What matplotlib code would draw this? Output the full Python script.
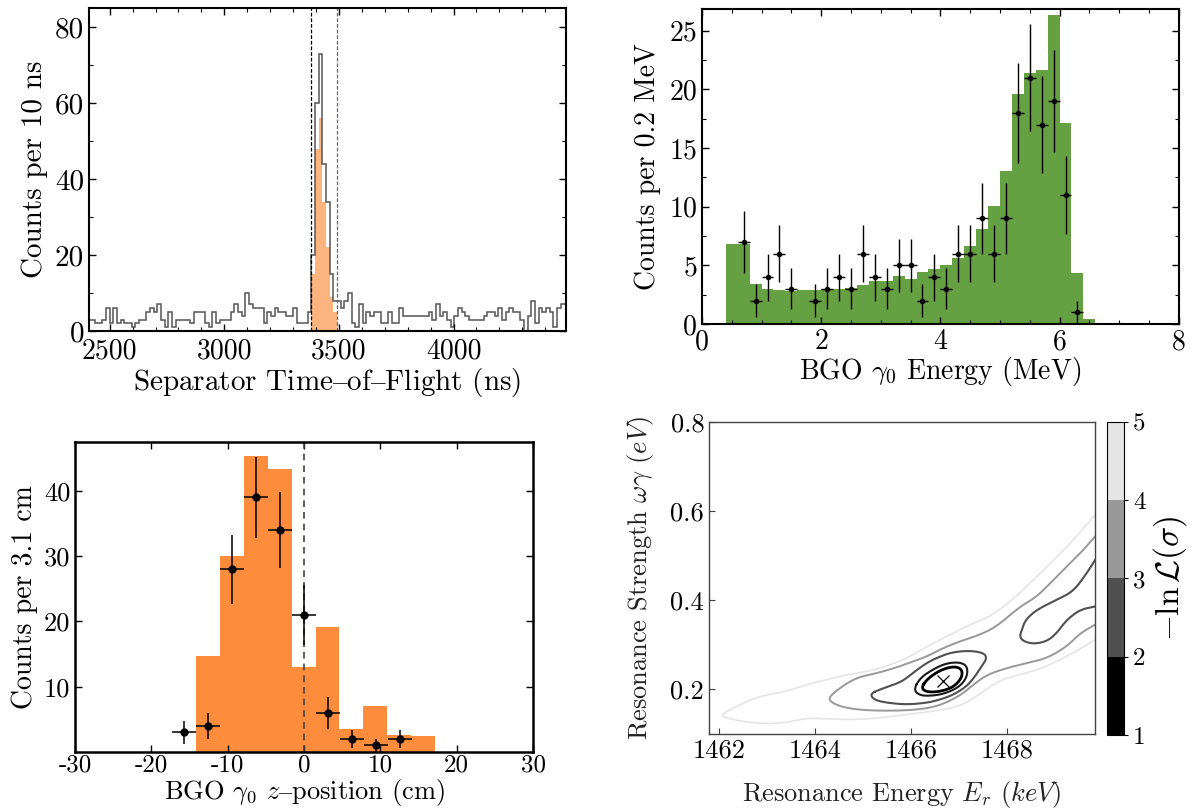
import numpy as np
import matplotlib
matplotlib.use('Agg')
from matplotlib import pyplot as plt
import matplotlib as mpl
from matplotlib.ticker import MultipleLocator

plt.rcParams['font.family'] = ['cmr10', 'DejaVu Serif']
plt.rcParams['mathtext.fontset'] = 'cm'
plt.rcParams['axes.unicode_minus'] = False

# ---- top left: separator time of flight ----
tof_start = 2404
tof_width = 16
tof_counts = [3, 3, 2, 2, 3, 6, 2, 6, 2, 3, 2, 2, 1, 2, 3, 3, 5, 6, 5, 7,
              3, 1, 5, 1, 3, 3, 3, 3, 2, 5, 5, 5, 2, 1, 5, 2, 3, 3, 3, 5,
              7, 5, 4, 10, 7, 6, 6, 6, 2, 5, 4, 6, 5, 5, 4, 4, 6, 2, 2, 2,
              5, 20, 60, 73, 44, 34, 15, 8, 8, 6, 8, 10, 2, 1, 7, 2, 5, 4, 5, 5,
              2, 2, 5, 2, 2, 6, 4, 4, 4, 4, 4, 4, 4, 5, 3, 7, 4, 5, 3, 1,
              4, 6, 5, 4, 3, 3, 3, 3, 4, 5, 5, 4, 6, 3, 5, 6, 5, 5, 3, 0,
              4, 8, 2, 6, 5, 6, 5, 1, 6, 7, 7]
gated_first_bin = 61
gated_counts = [15, 48, 56, 34, 22, 9, 5]
gate_lo, gate_hi = 3380, 3490

# ---- top right: BGO gamma0 energy ----
e_edges_lo = 0.4
e_width = 0.2
sim_counts = [6.85, 6.8, 3.38, 2.99, 2.93, 2.82, 2.87, 2.93, 2.99, 2.99,
              3.1, 3.3, 3.64, 3.64, 4.12, 3.84, 4.4, 4.7, 5.06, 5.66,
              6.68, 8.1, 10.07, 13.0, 19.6, 21.36, 21.64, 26.34, 17.1, 4.38, 0.4]
e_data_x = [0.7, 0.9, 1.1, 1.3, 1.5, 1.9, 2.1, 2.3, 2.5, 2.7, 2.9, 3.1, 3.3, 3.5,
            3.7, 3.9, 4.1, 4.3, 4.5, 4.7, 4.9, 5.1, 5.3, 5.5, 5.7, 5.9, 6.1, 6.3]
e_data_y = [7, 2, 4, 6, 3, 2, 3, 4, 3, 6, 4, 3, 5, 5,
            2, 4, 3, 6, 6, 9, 6, 9, 18, 21, 17, 19, 11, 1]

# ---- bottom left: z position ----
z_width = 3.14
z_bar_lo = -14.2
z_sim = [14.75, 29.95, 45.4, 43.4, 13.06, 19.14, 3.52, 7.09, 2.65, 2.39]
z_data_x = [-15.75, -12.6, -9.45, -6.3, -3.15, 0.0, 3.15, 6.3, 9.45, 12.6]
z_data_y = [3, 4, 28, 39, 34, 21, 6, 2, 1, 2]

# ---- bottom right: likelihood contours (E_r keV, wg eV) ----
best_fit = (1466.66, 0.2196)
c_level4 = [(1469.83, 0.591), (1469.38, 0.535), (1468.97, 0.490), (1468.41, 0.431), (1467.99, 0.390),
            (1467.58, 0.360), (1467.30, 0.349), (1467.02, 0.334), (1466.74, 0.319), (1466.33, 0.296),
            (1465.91, 0.270), (1465.49, 0.252), (1465.08, 0.240), (1464.66, 0.233), (1464.24, 0.222),
            (1463.83, 0.211), (1463.41, 0.196), (1462.99, 0.188), (1462.65, 0.177), (1462.37, 0.162),
            (1462.09, 0.147), (1462.06, 0.141), (1462.16, 0.136), (1462.58, 0.126), (1463.06, 0.123),
            (1463.41, 0.126), (1463.83, 0.136), (1464.24, 0.134), (1464.80, 0.132), (1465.35, 0.136),
            (1465.91, 0.144), (1466.47, 0.151), (1467.02, 0.162), (1467.44, 0.190), (1467.72, 0.212),
            (1467.99, 0.226), (1468.41, 0.237), (1468.83, 0.252), (1469.38, 0.282), (1469.66, 0.300),
            (1469.83, 0.311)]
c_level3 = [(1469.83, 0.543), (1469.59, 0.513), (1469.31, 0.483), (1468.97, 0.446), (1468.62, 0.408),
            (1468.27, 0.386), (1467.78, 0.341), (1467.44, 0.323), (1467.02, 0.308), (1466.67, 0.293),
            (1466.33, 0.274), (1466.05, 0.263), (1465.77, 0.252), (1465.35, 0.238), (1464.94, 0.229),
            (1464.66, 0.214), (1464.38, 0.192), (1464.28, 0.179), (1464.38, 0.168), (1464.66, 0.158),
            (1465.08, 0.153), (1465.63, 0.152), (1466.19, 0.155), (1466.60, 0.164), (1467.02, 0.186),
            (1467.30, 0.211), (1467.58, 0.233), (1467.99, 0.248), (1468.41, 0.259), (1468.83, 0.270),
            (1469.24, 0.296), (1469.52, 0.326), (1469.83, 0.345)]
c_level2 = [(1465.15, 0.190), (1465.35, 0.200), (1465.63, 0.210), (1465.84, 0.220), (1466.05, 0.238),
            (1466.33, 0.260), (1466.60, 0.274), (1466.88, 0.284), (1467.23, 0.287), (1467.51, 0.282),
            (1467.58, 0.270), (1467.47, 0.252), (1467.33, 0.229), (1467.16, 0.207), (1466.88, 0.188),
            (1466.60, 0.177), (1466.33, 0.170), (1465.91, 0.166), (1465.49, 0.170), (1465.22, 0.177)]
c_level2_island = [(1469.83, 0.490), (1469.66, 0.461), (1469.38, 0.420), (1469.03, 0.401), (1468.62, 0.379),
                   (1468.38, 0.356), (1468.31, 0.334), (1468.26, 0.319), (1468.34, 0.308), (1468.55, 0.302),
                   (1468.83, 0.308), (1469.03, 0.326), (1469.24, 0.356), (1469.52, 0.379), (1469.83, 0.386)]
c_level1 = [(1466.05, 0.199), (1466.19, 0.226), (1466.47, 0.246), (1466.74, 0.259), (1467.02, 0.261),
            (1467.17, 0.252), (1467.17, 0.229), (1467.02, 0.207), (1466.74, 0.192), (1466.47, 0.186),
            (1466.19, 0.186)]
c_level0 = [(1466.21, 0.203), (1466.33, 0.223), (1466.60, 0.243), (1466.88, 0.252), (1467.06, 0.246),
            (1467.06, 0.226), (1466.88, 0.205), (1466.60, 0.195), (1466.33, 0.194)]
cbar_levels = [1, 2, 3, 4, 5]
cbar_colours = ['#000000', '#505050', '#999999', '#e5e5e5']

DASH = '$\u2013$'


def chaikin(pts, n=3, closed=False):
    p = np.asarray(pts, dtype=float)
    for _ in range(n):
        if closed:
            a, b = p, np.roll(p, -1, axis=0)
        else:
            a, b = p[:-1], p[1:]
        new = np.empty((2 * len(a), 2))
        new[0::2] = 0.75 * a + 0.25 * b
        new[1::2] = 0.25 * a + 0.75 * b
        if not closed:
            new = np.vstack([p[0], new, p[-1]])
        p = new
    if closed:
        p = np.vstack([p, p[:1]])
    return p


def style(ax, lw=1.5, size=19):
    for s in ax.spines.values():
        s.set_linewidth(lw)
    ax.tick_params(which='both', direction='in', top=True, right=True, labelsize=size)
    ax.tick_params(which='major', length=5, width=1)
    ax.tick_params(which='minor', length=3, width=0.8)


fig = plt.figure(figsize=(11.95, 8.09), dpi=100)

# top left
ax1 = fig.add_axes([0.0745, 0.5909, 0.399, 0.3993])
edges = tof_start + tof_width * np.arange(len(tof_counts) + 1)
g_edges = edges[gated_first_bin:gated_first_bin + len(gated_counts) + 1]
ax1.stairs(gated_counts, g_edges, fill=True, color='#fdb47e', lw=0)
ax1.stairs(tof_counts, edges, color='#555555', lw=1.1)
ax1.axvline(gate_lo, color='k', ls='--', lw=0.9, dashes=(3, 1.5))
ax1.axvline(gate_hi, color='#666666', ls='--', lw=0.9, dashes=(3, 1.5))
ax1.set_xlim(2410, 4490)
ax1.set_ylim(0, 85)
ax1.xaxis.set_major_locator(MultipleLocator(500))
ax1.xaxis.set_minor_locator(MultipleLocator(100))
ax1.yaxis.set_major_locator(MultipleLocator(20))
ax1.yaxis.set_minor_locator(MultipleLocator(10))
style(ax1, size=21)
ax1.tick_params(axis='x', labelsize=20, pad=5)
ax1.set_xlabel('Separator Time' + DASH + 'of' + DASH + 'Flight (ns)', fontsize=21, labelpad=1)
ax1.set_ylabel('Counts per 10 ns', fontsize=21, labelpad=5)

# top right
ax2 = fig.add_axes([0.5874, 0.5995, 0.399, 0.3894])
e_left = e_edges_lo + e_width * np.arange(len(sim_counts))
ax2.bar(e_left, sim_counts, width=e_width, align='edge', color='#65a042', lw=0)
ax2.errorbar(e_data_x, e_data_y, yerr=np.sqrt(e_data_y), xerr=e_width / 2, fmt='o', ms=3,
             color='k', elinewidth=1, capsize=0)
ax2.set_xlim(0, 8)
ax2.set_ylim(0, 26.85)
ax2.xaxis.set_major_locator(MultipleLocator(2))
ax2.xaxis.set_minor_locator(MultipleLocator(0.5))
ax2.yaxis.set_major_locator(MultipleLocator(5))
ax2.yaxis.set_minor_locator(MultipleLocator(2.5))
style(ax2, size=20)
ax2.set_xlabel(r'BGO $\gamma_0$ Energy (MeV)', fontsize=20, labelpad=0)
ax2.set_ylabel('Counts per 0.2 MeV', fontsize=20, labelpad=6)

# bottom left
ax3 = fig.add_axes([0.0628, 0.0705, 0.3833, 0.3832])
z_left = z_bar_lo + z_width * np.arange(len(z_sim))
ax3.bar(z_left, z_sim, width=z_width, align='edge', color='#fd8c3d', lw=0)
ax3.axvline(0, color='#444444', ls='--', lw=1.2, dashes=(4, 3))
ax3.errorbar(z_data_x, z_data_y, yerr=np.sqrt(z_data_y), xerr=z_width / 2, fmt='o', ms=5,
             color='k', elinewidth=1.1, capsize=0)
ax3.set_xlim(-30, 30)
ax3.set_ylim(0, 47.5)
ax3.set_xticks([-30, -20, -10, 0, 10, 20, 30])
ax3.set_yticks([10, 20, 30, 40])
style(ax3, lw=1.8, size=19)
ax3.tick_params(axis='x', labelsize=18, pad=2)
ax3.set_xlabel(r'BGO $\gamma_0$ $z$' + DASH + 'position (cm)', fontsize=19, labelpad=0)
ax3.set_ylabel('Counts per 3.1 cm', fontsize=20)

# bottom right
ax4 = fig.add_axes([0.5933, 0.0927, 0.3230, 0.3857])
line_sets = [(c_level4, False, cbar_colours[3], 1.2),
             (c_level3, False, cbar_colours[2], 1.4),
             (c_level2, True, cbar_colours[1], 1.5),
             (c_level2_island, False, cbar_colours[1], 1.5),
             (c_level1, True, '#1a1a1a', 1.5),
             (c_level0, True, '#000000', 2.0)]
for pts, closed, col, lw in line_sets:
    p = chaikin(pts, closed=closed)
    ax4.plot(p[:, 0], p[:, 1], color=col, lw=lw)
ax4.plot(*best_fit, marker='x', ms=9, mew=0.9, color='k')
ax4.set_xlim(1461.79, 1469.83)
ax4.set_ylim(0.1, 0.8)
ax4.set_xticks([1462, 1464, 1466, 1468])
ax4.set_yticks([0.2, 0.4, 0.6, 0.8])
for s in ax4.spines.values():
    s.set_linewidth(1.0)
    s.set_color('#444444')
ax4.tick_params(direction='in', labelsize=19, length=4, color='#444444')
ax4.set_xlabel(r'Resonance Energy $E_r$ $(keV)$', fontsize=19, labelpad=12, color='#222222')
ax4.set_ylabel(r'Resonance Strength $\omega\gamma$ $(eV)$', fontsize=19, labelpad=10, color='#222222')

cax = fig.add_axes([0.9264, 0.0915, 0.0142, 0.3869])
cmap = mpl.colors.ListedColormap(cbar_colours)
norm = mpl.colors.BoundaryNorm(cbar_levels, cmap.N)
cb = fig.colorbar(mpl.cm.ScalarMappable(norm=norm, cmap=cmap), cax=cax, ticks=cbar_levels)
cb.outline.set_linewidth(0.8)
cb.ax.tick_params(labelsize=18, length=3, width=0.8)
cb.set_label(r'$-\ln\mathcal{L}(\sigma)$', fontsize=24, labelpad=4)

fig.savefig('out.png', dpi=100)
